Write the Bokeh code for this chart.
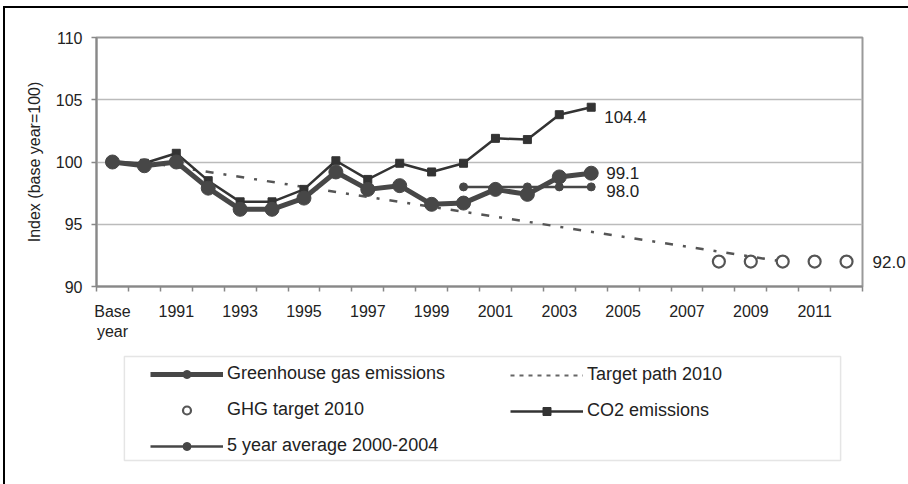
from bokeh.plotting import figure
from bokeh.models import (Range1d, FixedTicker, Legend, LegendItem, BoxAnnotation, Label,
                          LinearAxis, NumeralTickFormatter, Div)
from bokeh.layouts import column, row
from bokeh.embed import file_html
from bokeh.resources import INLINE

# ---------------- data ----------------
categories = ["Base year", "1990", "1991", "1992", "1993", "1994", "1995", "1996",
              "1997", "1998", "1999", "2000", "2001", "2002", "2003", "2004",
              "2005", "2006", "2007", "2008", "2009", "2010", "2011", "2012"]

tick_categories = ["Base year", "1991", "1993", "1995", "1997", "1999", "2001",
                   "2003", "2005", "2007", "2009", "2011"]
tick_labels = ["Base\nyear", "1991", "1993", "1995", "1997", "1999", "2001",
               "2003", "2005", "2007", "2009", "2011"]

y_ticks = [90, 95, 100, 105, 110]

series_years = ["Base year", "1990", "1991", "1992", "1993", "1994", "1995", "1996",
                "1997", "1998", "1999", "2000", "2001", "2002", "2003", "2004"]
ghg = [100.0, 99.7, 100.0, 97.9, 96.2, 96.2, 97.1, 99.2,
       97.8, 98.1, 96.6, 96.7, 97.8, 97.4, 98.8, 99.1]
co2 = [100.0, 99.9, 100.7, 98.5, 96.8, 96.8, 97.8, 100.1,
       98.6, 99.9, 99.2, 99.9, 101.9, 101.8, 103.8, 104.4]

avg_years = ["2000", "2001", "2002", "2003", "2004"]
avg5 = [98.0, 98.0, 98.0, 98.0, 98.0]

target_years = ["1990", "2010"]
target_path = [100.0, 92.0]

goal_years = ["2008", "2009", "2010", "2011", "2012"]
ghg_goal = [92.0, 92.0, 92.0, 92.0, 92.0]

legend_labels = ["Greenhouse gas emissions", "GHG target 2010", "5 year average 2000-2004",
                 "Target path 2010", "CO2 emissions"]

# ---------------- helpers ----------------
pos = {c: i + 0.5 for i, c in enumerate(categories)}
def xs(years):
    return [pos[c] for c in years]

FONT = "Liberation Sans"
TXT = "#222222"

STY = {
    "target": dict(line_color="#555555", line_width=2.5, line_dash="8 10 3 10"),
    "target_leg": dict(line_color="#666666", line_width=2, line_dash="4 5"),
    "co2_l": dict(line_color="#333333", line_width=2.5),
    "co2_m": dict(marker="square", size=8, fill_color="#333333", line_color="#333333"),
    "avg_l": dict(line_color="#474747", line_width=2.5),
    "avg_m": dict(marker="circle", size=8, fill_color="#474747", line_color="#474747"),
    "ghg_l": dict(line_color="#474747", line_width=5),
    "ghg_m": dict(marker="circle", size=14, fill_color="#474747", line_color="#474747"),
    "goal": dict(marker="circle", size=12, fill_color="white", line_color="#555555", line_width=2.2),
}

# ---------------- chart ----------------
p = figure(width=903, height=337, x_range=Range1d(0, len(categories)),
           y_range=Range1d(90, 110), output_backend="svg", toolbar_location=None,
           min_border_left=91, min_border_right=43, min_border_top=29,
           min_border_bottom=59)
p.background_fill_color = "white"
p.border_fill_color = "white"
p.outline_line_color = "#9a9a9a"
p.outline_line_width = 2

xa = p.xaxis[0]
xa.ticker = FixedTicker(ticks=[pos[c] for c in tick_categories],
                        minor_ticks=[float(i) for i in range(len(categories) + 1)])
xa.major_label_overrides = {pos[c]: lab for c, lab in zip(tick_categories, tick_labels)}
xa.major_tick_out = 0
xa.major_tick_in = 0
xa.minor_tick_out = 5
xa.minor_tick_in = 0
xa.minor_tick_line_color = "#888888"
xa.minor_tick_line_width = 1.5
xa.axis_line_color = "#888888"
xa.axis_line_width = 2
xa.major_label_text_font = FONT
xa.major_label_text_font_size = "16px"
xa.major_label_text_color = TXT
xa.major_label_standoff = 11

ya = p.yaxis[0]
ya.ticker = FixedTicker(ticks=y_ticks)
ya.major_tick_out = 5
ya.major_tick_in = 0
ya.minor_tick_out = 0
ya.minor_tick_in = 0
ya.major_tick_line_color = "#888888"
ya.major_tick_line_width = 1.5
ya.axis_line_color = "#888888"
ya.axis_line_width = 2
ya.major_label_text_font = FONT
ya.major_label_text_font_size = "16px"
ya.major_label_text_color = TXT
ya.major_label_standoff = 9
ya.axis_label = "Index (base year=100)"
ya.axis_label_text_font = FONT
ya.axis_label_text_font_size = "16px"
ya.axis_label_text_font_style = "normal"
ya.axis_label_text_color = TXT
ya.axis_label_standoff = 10

# right-hand axis carrying the value of the 2010 target
ra = LinearAxis(ticker=FixedTicker(ticks=[ghg_goal[-1]]),
                formatter=NumeralTickFormatter(format="0.0"),
                axis_line_color=None, major_tick_out=0, major_tick_in=0,
                minor_tick_out=0, minor_tick_in=0, major_label_standoff=10,
                major_label_text_font=FONT, major_label_text_font_size="17px",
                major_label_text_color=TXT)
p.add_layout(ra, "right")

p.xgrid.visible = False
p.ygrid.ticker = FixedTicker(ticks=y_ticks)
p.ygrid.grid_line_color = "#bbbbbb"
p.ygrid.grid_line_width = 1.5

p.line(xs(target_years), target_path, **STY["target"])
p.line(xs(series_years), co2, **STY["co2_l"])
p.scatter(xs(series_years), co2, **STY["co2_m"])
p.line(xs(avg_years), avg5, **STY["avg_l"])
p.scatter(xs(avg_years), avg5, **STY["avg_m"])
p.line(xs(series_years), ghg, **STY["ghg_l"])
p.scatter(xs(series_years), ghg, **STY["ghg_m"])
p.scatter(xs(goal_years), ghg_goal, **STY["goal"])

ends = [("2004", co2[-1], 13, -10), ("2004", ghg[-1], 15, 0), ("2004", avg5[-1], 15, -4)]
for yr, v, xo, yo in ends:
    p.add_layout(Label(x=pos[yr], y=v, text=f"{v:.1f}", x_offset=xo, y_offset=yo,
                       text_font=FONT, text_font_size="17px", text_color=TXT,
                       text_baseline="middle", text_align="left"))

# ---------------- legend panel ----------------
# its frame is aligned with the chart's frame (page x 96..865, page y 345..484);
# the ranges are chosen so that one data unit = one page pixel
q = figure(width=903, height=139, x_range=Range1d(96, 865), y_range=Range1d(484, 345),
           output_backend="svg", toolbar_location=None,
           x_axis_location=None, y_axis_location=None,
           min_border_left=91, min_border_right=43, min_border_top=0, min_border_bottom=0)
q.grid.visible = False
q.outline_line_color = None
q.background_fill_color = "white"
q.border_fill_color = "white"

# legend-only renderers (one point placed far outside the visible range)
hx, hy = [-10000], [-10000]
g_ghg = [q.line(hx, hy, **STY["ghg_l"]), q.scatter(hx, hy, **STY["ghg_m"])]
g_goal = [q.scatter(hx, hy, **STY["goal"])]
g_avg = [q.line(hx, hy, **STY["avg_l"]), q.scatter(hx, hy, **STY["avg_m"])]
g_target = [q.line(hx, hy, **STY["target_leg"])]
g_co2 = [q.line(hx, hy, **STY["co2_l"]), q.scatter(hx, hy, **STY["co2_m"])]

q.add_layout(BoxAnnotation(left=124, right=843, top=356, bottom=460,
                           fill_alpha=0, line_color="#aaaaaa", line_width=1.5))

def make_legend(items, loc):
    return Legend(items=items, location=loc, orientation="vertical",
                  glyph_width=73, glyph_height=20, label_height=20, label_standoff=4,
                  spacing=15, padding=0, margin=0, border_line_alpha=0,
                  background_fill_alpha=0, label_text_font=FONT,
                  label_text_font_size="18px", label_text_color=TXT)

q.add_layout(make_legend([
    LegendItem(label=legend_labels[0], renderers=g_ghg),
    LegendItem(label=legend_labels[1], renderers=g_goal),
    LegendItem(label=legend_labels[2], renderers=g_avg),
], (54, 28)), "center")
q.add_layout(make_legend([
    LegendItem(label=legend_labels[3], renderers=g_target),
    LegendItem(label=legend_labels[4], renderers=g_co2),
], (414, 63)), "center")

# ---------------- outer frame ----------------
top_line = Div(text="", width=905, height=2, margin=(6, 0, 0, 3),
               styles={"background-color": "black"})
left_line = Div(text="", width=2, height=476, margin=(0, 0, 0, 3),
                styles={"background-color": "black"})

root = column(top_line, row(left_line, column(p, q, spacing=0), spacing=0), spacing=0)

open("out.html", "w").write(file_html(root, INLINE))
